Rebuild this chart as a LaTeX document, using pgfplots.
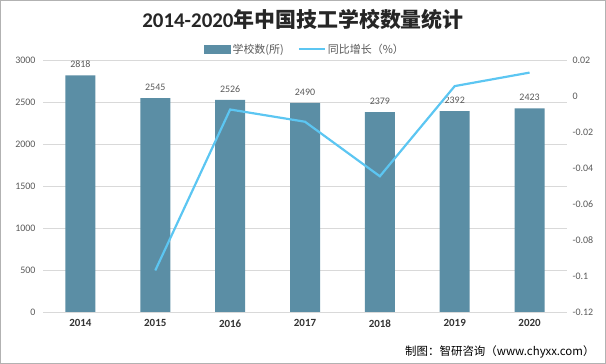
\documentclass[border=0pt]{standalone}
\usepackage{fontspec}
\setmainfont{Carlito}
\newfontfamily\cjk{Noto Sans CJK SC}
\usepackage{pgfplots}
\pgfplotsset{compat=1.18}
\definecolor{barc}{RGB}{91,142,165}
\definecolor{linec}{RGB}{92,198,242}
\definecolor{gridc}{RGB}{217,217,217}
\definecolor{tickc}{RGB}{89,89,89}
\begin{document}
\begin{tikzpicture}
\useasboundingbox (-43bp,-52bp) rectangle (563bp,312bp);
\begin{axis}[name=ax, at={(0,0)}, anchor=south west,
  scale only axis, width=524bp, height=252bp,
  xmin=-0.5, xmax=6.5, ymin=0, ymax=3000,
  xtick={0,1,2,3,4,5,6},
  xticklabels={2014,2015,2016,2017,2018,2019,2020},
  xticklabel style={font=\bfseries\fontsize{11}{12}\selectfont, text=black!80, yshift=-4bp},
  ytick={0,500,1000,1500,2000,2500,3000},
  yticklabel style={font=\fontsize{10}{12}\selectfont, text=tickc, xshift=-4bp},
  /pgf/number format/assume math mode=true,
  /pgf/number format/1000 sep={},
  ymajorgrids, grid style={gridc, line width=0.8pt},
  axis line style={draw=none},
  major tick style={draw=none},
]
\addplot[ybar, bar width=30bp, fill=barc, draw=none,
  nodes near coords,
  nodes near coords style={font=\fontsize{10}{11}\selectfont, text=tickc, yshift=4bp, /pgf/number format/1000 sep={}}]
  coordinates {(0,2818) (1,2545) (2,2526) (3,2490) (4,2379) (5,2392) (6,2423)};
\end{axis}
\begin{axis}[at={(0,0)}, anchor=south west,
  scale only axis, width=524bp, height=252bp,
  xmin=-0.5, xmax=6.5, ymin=-0.12, ymax=0.02,
  axis x line=none, axis y line*=right,
  y axis line style={draw=none},
  ytick={-0.12,-0.1,-0.08,-0.06,-0.04,-0.02,0,0.02},
  yticklabels={-0.12,-0.1,-0.08,-0.06,-0.04,-0.02,0,0.02},
  yticklabel style={font=\fontsize{10}{12}\selectfont, text=tickc, xshift=2bp},
  major tick style={draw=none},
  legend columns=2,
  legend style={at={(0.5,1)}, anchor=south, yshift=1bp, draw=none, fill=none,
    font=\cjk\fontsize{11}{13}\selectfont, text=tickc,
    /tikz/every even column/.append style={column sep=12bp}},
]
\addlegendimage{legend image code/.code={\fill[barc] (0bp,-4bp) rectangle (26bp,4bp);}}
\addlegendentry{学校数(所)}
\addplot[linec, line width=2.2pt,
  legend image code/.code={\draw[linec, line width=2.2pt] (0bp,0bp) -- (26bp,0bp);}]
  coordinates {(1,-0.0969) (2,-0.0075) (3,-0.0143) (4,-0.0446) (5,0.0055) (6,0.0130)};
\addlegendentry{同比增长（\%）}
\end{axis}
\node[font=\bfseries\fontsize{21}{23}\selectfont, text=black!85, anchor=center] at (260bp,292bp) {2014-2020{\cjk\bfseries 年中国技工学校数量统计}};
\node[font=\cjk\fontsize{11.5}{13}\selectfont, anchor=east] at (555bp,-40bp) {制图：智研咨询（www.chyxx.com）};
\draw[gray!60, line width=1bp] (-42.5bp,-51.5bp) rectangle (562.5bp,311.5bp);
\end{tikzpicture}
\end{document}
